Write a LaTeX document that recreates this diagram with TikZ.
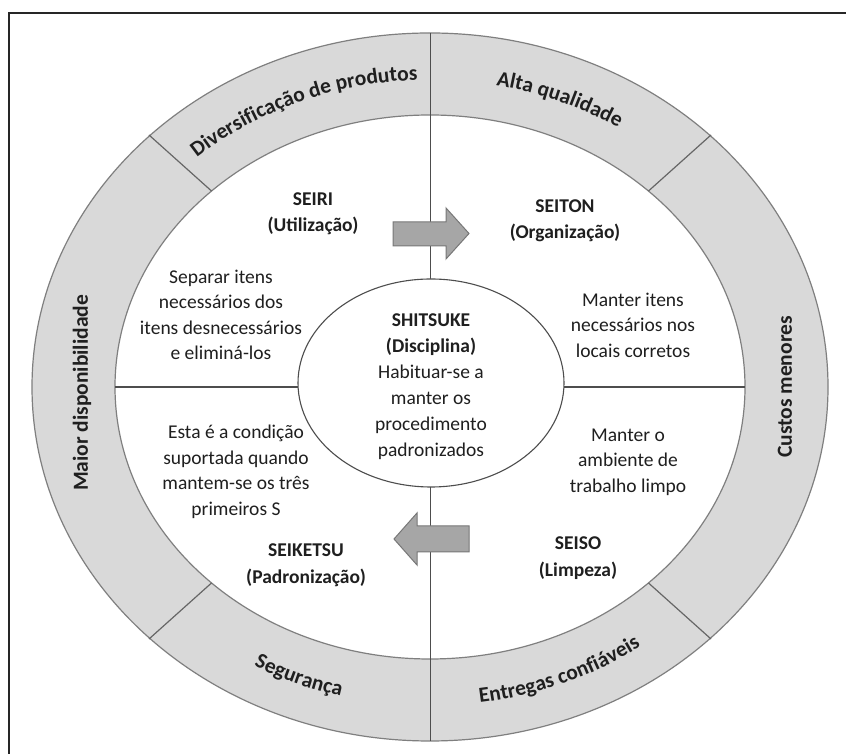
\documentclass[tikz,border=0pt]{standalone}
\usepackage{fontspec}
\setmainfont{Carlito}
\usetikzlibrary{decorations.text}
\definecolor{ringgray}{HTML}{D9D9D9}
\definecolor{edgegray}{HTML}{7F7F7F}
\definecolor{linegray}{HTML}{4D4D4D}
\definecolor{arrowfill}{HTML}{A6A6A6}
\definecolor{arrowedge}{HTML}{777777}
\definecolor{txt}{HTML}{1F1F1F}
\newcommand{\ringfnt}{\bfseries\fontsize{21.5}{24}\selectfont}
\begin{document}
\begin{tikzpicture}[x=1pt,y=1pt,
  body/.style={align=center,text=txt,font=\fontsize{19.5}{25.5}\selectfont,inner sep=0pt},
  headtxt/.style={align=center,text=txt,font=\bfseries\fontsize{19.5}{26.5}\selectfont,inner sep=0pt},
  ringlabel/.style={text=txt,font=\ringfnt,inner sep=0pt},
  blockarrow/.style={fill=arrowfill,draw=arrowedge,line width=1pt,line join=miter},
  ellipseedge/.style={draw=edgegray,line width=1.2pt},
  divider/.style={draw=edgegray!80!black,line width=1.2pt},
  axisline/.style={draw=linegray,line width=1.1pt},
  curvetext/.style={decorate,decoration={text along path,text align=center,text={|\color{txt}\ringfnt|#1}}}
]
\useasboundingbox (0,0) rectangle (846,754);
\fill[white] (0,0) rectangle (846,754);
% frame (top and left only)
\draw[line width=2.4pt,black!85] (9,0) -- (9,741) -- (846,741);
% ring
\path[ellipseedge,fill=ringgray] (430,367) ellipse [x radius=398pt, y radius=354pt];
\path[ellipseedge,fill=white] (430,367) ellipse [x radius=315pt, y radius=272pt];
% ring dividers
\coordinate (o1) at (149,619); \coordinate (i1) at (211.5,563);
\coordinate (o2) at (711,619); \coordinate (i2) at (648.5,563);
\coordinate (o3) at (711,115); \coordinate (i3) at (648.5,171);
\coordinate (o4) at (149,115); \coordinate (i4) at (211.5,171);
\draw[divider] (i1) -- (o1);
\draw[divider] (i2) -- (o2);
\draw[divider] (i3) -- (o3);
\draw[divider] (i4) -- (o4);
% axes
\coordinate (vtop) at (430.5,721);
\coordinate (vbot) at (430.5,13);
\coordinate (hl) at (115,367);
\coordinate (hr) at (745,367);
\draw[axisline] (vtop) -- (vbot);
\draw[axisline] (hl) -- (hr);
% centre ellipse
\path[draw=linegray,line width=1.1pt,fill=white] (431,371) ellipse [x radius=133pt, y radius=104pt];
% block arrows
\draw[blockarrow] (393,508) -- (446,508) -- (446,495) -- (469,520.5) -- (446,546) -- (446,532) -- (393,532) -- cycle;
\draw[blockarrow] (469,202) -- (417,202) -- (417,189) -- (394,215) -- (417,241) -- (417,228) -- (469,228) -- cycle;
% quadrant texts
\node[headtxt] (seiri) at (313,540) {SEIRI\\(Utilização)};
\node[headtxt] (seiton) at (565,533) {SEITON\\(Organização)};
\node[body] (seiritxt) at (221,439) {Separar itens\\necessários dos\\itens desnecessários\\e eliminá-los};
\node[body] (seitontxt) at (633,429) {Manter itens\\necessários nos\\locais corretos};
\node[align=center,text=txt,inner sep=0pt,font=\fontsize{19.5}{26}\selectfont] (shitsuke) at (431,367)
  {{\bfseries SHITSUKE}\\{\bfseries (Disciplina)}\\Habituar-se a\\manter os\\procedimento\\padronizados};
\node[body] (seiketsutxt) at (236,282) {Esta é a condição\\suportada quando\\mantem-se os três\\primeiros S};
\node[body] (seisotxt) at (628,292) {Manter o\\ambiente de\\trabalho limpo};
\node[headtxt] (seiketsu) at (306,189) {SEIKETSU\\(Padronização)};
\node[headtxt] (seiso) at (578,196) {SEISO\\(Limpeza)};
% ring labels
\node[ringlabel,rotate=90] (maior) at (82,361) {Maior disponibilidade};
\node[ringlabel,rotate=90] (custos) at (785,367) {Custos menores};
\path[curvetext={Diversificação de produtos}] (430,367) ++(150:350.5pt and 307pt) arc[start angle=150,end angle=75,x radius=350.5pt,y radius=307pt];
\path[curvetext={Alta qualidade}] (430,367) ++(105:350.5pt and 307pt) arc[start angle=105,end angle=30,x radius=350.5pt,y radius=307pt];
\path[curvetext={Segurança}] (430,367) ++(210:362.5pt and 319pt) arc[start angle=210,end angle=285,x radius=362.5pt,y radius=319pt];
\path[curvetext={Entregas confiáveis}] (430,367) ++(255:362.5pt and 319pt) arc[start angle=255,end angle=330,x radius=362.5pt,y radius=319pt];
\end{tikzpicture}
\end{document}
